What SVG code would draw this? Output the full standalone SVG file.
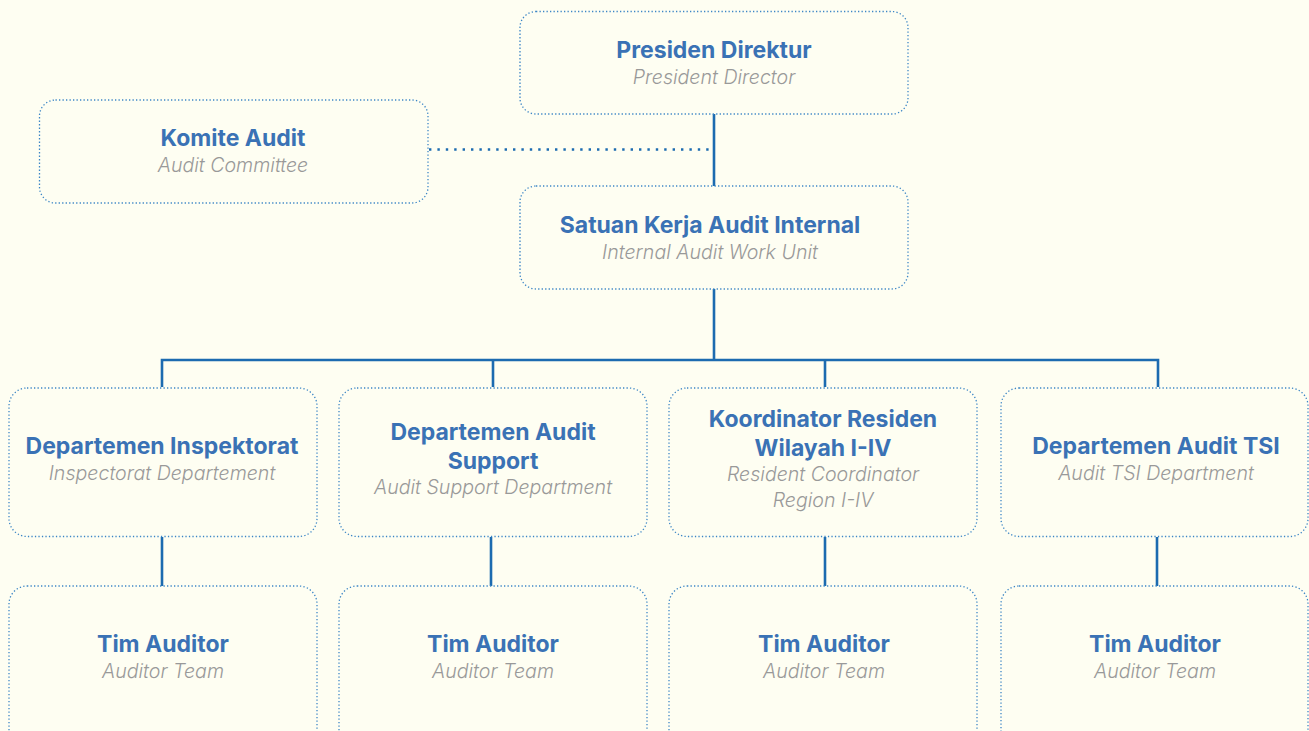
<svg xmlns="http://www.w3.org/2000/svg" width="1309" height="731" viewBox="0 0 1309 731">
  <style>
    .box { fill: #FEFEF2; stroke: #3C86C6; stroke-width: 1.3; stroke-dasharray: 1.3 2.2; }
    .t { font-family: Inter, "Noto Sans", "Liberation Sans", sans-serif; font-size: 23px; font-weight: 700; fill: #3A72B5; text-anchor: middle; }
    .s { font-family: Inter, "Noto Sans", "Liberation Sans", sans-serif; font-size: 19.6px; font-weight: 300; font-style: italic; fill: #999999; text-anchor: middle; }
    .line { fill: none; stroke: #1C6BB0; stroke-width: 2.6; }
    .dot { fill: none; stroke: #1C6BB0; stroke-width: 2.6; stroke-dasharray: 2.4 6; }
  </style>
  <rect width="1309" height="731" fill="#FEFEF2"/>

  <g id="connectors">
    <line class="dot" x1="429" y1="149.5" x2="713" y2="149.5"/>
    <line class="line" x1="714" y1="114" x2="714" y2="186"/>
    <line class="line" x1="714" y1="289" x2="714" y2="360"/>
    <polyline class="line" points="162,387 162,360 1158,360 1158,387"/>
    <line class="line" x1="493" y1="360" x2="493" y2="387"/>
    <line class="line" x1="825" y1="360" x2="825" y2="387"/>
    <line class="line" x1="162" y1="537" x2="162" y2="586"/>
    <line class="line" x1="491" y1="537" x2="491" y2="586"/>
    <line class="line" x1="825" y1="537" x2="825" y2="586"/>
    <line class="line" x1="1157" y1="537" x2="1157" y2="586"/>
  </g>

  <g id="presiden-direktur">
    <rect class="box" x="520" y="11.5" width="388" height="102.5" rx="16"/>
    <text class="t" x="714" y="57.5">Presiden Direktur</text>
    <text class="s" x="714" y="83.5">President Director</text>
  </g>

  <g id="komite-audit">
    <rect class="box" x="39.5" y="100" width="388.5" height="103" rx="16"/>
    <text class="t" x="233" y="145.5">Komite Audit</text>
    <text class="s" x="233" y="171.5">Audit Committee</text>
  </g>

  <g id="satuan-kerja-audit-internal">
    <rect class="box" x="520" y="186" width="388" height="103" rx="16"/>
    <text class="t" x="710" y="232.5">Satuan Kerja Audit Internal</text>
    <text class="s" x="710" y="258.5">Internal Audit Work Unit</text>
  </g>

  <g id="departemen-inspektorat">
    <rect class="box" x="9" y="388" width="308" height="148.5" rx="18"/>
    <text class="t" x="162" y="453.5">Departemen Inspektorat</text>
    <text class="s" x="162" y="480">Inspectorat Departement</text>
  </g>

  <g id="departemen-audit-support">
    <rect class="box" x="339" y="388" width="308" height="148.5" rx="18"/>
    <text class="t" x="493" y="439.5">Departemen Audit</text>
    <text class="t" x="493" y="468.5">Support</text>
    <text class="s" x="493" y="494">Audit Support Department</text>
  </g>

  <g id="koordinator-residen">
    <rect class="box" x="669" y="388" width="308" height="148.5" rx="18"/>
    <text class="t" x="823" y="426.5">Koordinator Residen</text>
    <text class="t" x="823" y="455.5">Wilayah I-IV</text>
    <text class="s" x="823" y="481">Resident Coordinator</text>
    <text class="s" x="823" y="507">Region I-IV</text>
  </g>

  <g id="departemen-audit-tsi">
    <rect class="box" x="1001" y="388" width="307" height="148.5" rx="18"/>
    <text class="t" x="1156" y="453.5">Departemen Audit TSI</text>
    <text class="s" x="1156" y="480">Audit TSI Department</text>
  </g>

  <g id="tim-auditor-1">
    <rect class="box" x="9" y="586" width="308" height="170" rx="18"/>
    <text class="t" x="163" y="651.5">Tim Auditor</text>
    <text class="s" x="163" y="678">Auditor Team</text>
  </g>

  <g id="tim-auditor-2">
    <rect class="box" x="339" y="586" width="308" height="170" rx="18"/>
    <text class="t" x="493" y="651.5">Tim Auditor</text>
    <text class="s" x="493" y="678">Auditor Team</text>
  </g>

  <g id="tim-auditor-3">
    <rect class="box" x="669" y="586" width="308" height="170" rx="18"/>
    <text class="t" x="824" y="651.5">Tim Auditor</text>
    <text class="s" x="824" y="678">Auditor Team</text>
  </g>

  <g id="tim-auditor-4">
    <rect class="box" x="1001" y="586" width="307" height="170" rx="18"/>
    <text class="t" x="1155" y="651.5">Tim Auditor</text>
    <text class="s" x="1155" y="678">Auditor Team</text>
  </g>
</svg>
